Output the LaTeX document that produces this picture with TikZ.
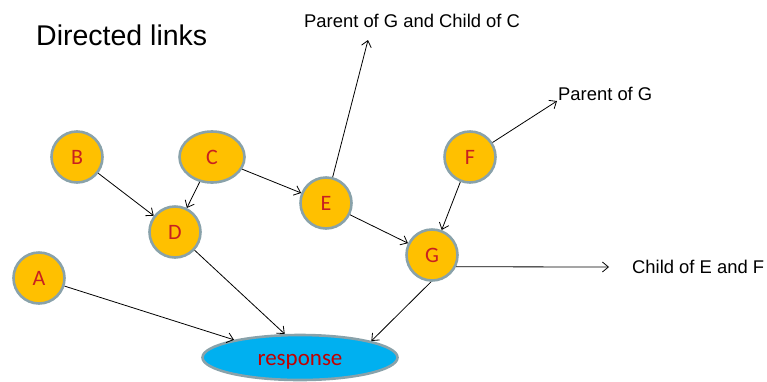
\documentclass[tikz,border=0pt]{standalone}
\usepackage{fontspec}
\setmainfont{Liberation Sans}
\newfontfamily\nodefont{Carlito}
\usetikzlibrary{arrows.meta,shapes.geometric}
\definecolor{nodefill}{RGB}{255,192,0}
\definecolor{nodeborder}{RGB}{137,162,170}
\definecolor{respfill}{RGB}{0,176,240}
\definecolor{lettercol}{RGB}{200,32,32}
\definecolor{respcol}{RGB}{192,0,0}
\tikzset{
  varnode/.style={circle,draw=nodeborder,line width=2.6pt,fill=nodefill,minimum size=51pt,inner sep=0pt,
    font=\nodefont\fontsize{22}{24}\selectfont,text=lettercol},
  ovalnode/.style={ellipse,draw=nodeborder,line width=2.6pt,fill=nodefill,minimum width=65pt,minimum height=51pt,inner sep=0pt,
    font=\nodefont\fontsize{22}{24}\selectfont,text=lettercol},
  respnode/.style={ellipse,draw=nodeborder,line width=2.6pt,fill=respfill,minimum width=195pt,minimum height=45pt,inner sep=0pt,
    text height=16pt,text depth=0pt,
    font=\nodefont\fontsize{23}{25}\selectfont,text=respcol},
  lbl/.style={anchor=base west,inner sep=0pt,font=\fontsize{18.4}{20}\selectfont},
  link/.style={line width=0.8pt,-{Straight Barb[length=6pt,width=10pt]}},
}
\begin{document}
\begin{tikzpicture}[x=1pt,y=-1pt]
\useasboundingbox (0,0) rectangle (767,381);
\node[anchor=base west,inner sep=0pt,font=\fontsize{28.5}{32}\selectfont] (title) at (36,45) {Directed links};

\node[varnode] (B) at (77,157) {B};
\node[ovalnode] (C) at (212,157) {C};
\node[varnode] (D) at (175,232) {D};
\node[varnode] (A) at (39,278) {A};
\node[varnode] (E) at (326,203) {E};
\node[varnode] (F) at (470,157) {F};
\node[varnode] (G) at (432,255) {G};
\node[respnode] (R) at (300,357.5) {response};

\node[lbl] (l1) at (304,27.5) {Parent of G and Child of C};
\node[lbl] (l2) at (558,100.5) {Parent of G};
\node[lbl] (l3) at (632,273) {Child of E and F};

\coordinate (t1) at (368,40);
\coordinate (t2) at (557,101);
\coordinate (t3) at (609,267);

\draw[link] (B) -- (D);
\draw[link] (C) -- (D);
\draw[link] (C) -- (E);
\draw[link] (E) -- (t1);
\draw[link] (E) -- (G);
\draw[link] (F) -- (t2);
\draw[link] (F) -- (G);
\draw[link] (G.-26) -- (t3);
\draw[link] (A) -- (R.165);
\draw[link] (D) -- (R.123);
\draw[link] (G.-92) -- (R.13);
\end{tikzpicture}
\end{document}
